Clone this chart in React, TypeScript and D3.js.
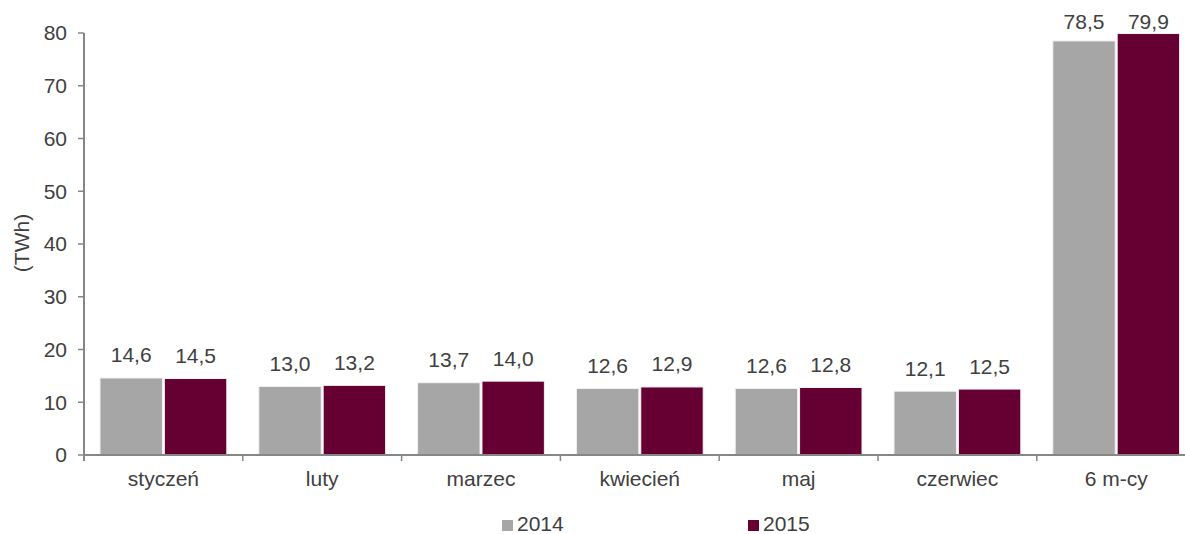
import React from "react";
import * as d3 from "d3";

const categories = ["styczeń", "luty", "marzec", "kwiecień", "maj", "czerwiec", "6 m-cy"];
const seriesNames = ["2014", "2015"];
const values2014 = [14.6, 13.0, 13.7, 12.6, 12.6, 12.1, 78.5];
const values2015 = [14.5, 13.2, 14.0, 12.9, 12.8, 12.5, 79.9];
const yTicks = [0, 10, 20, 30, 40, 50, 60, 70, 80];
const colors = ["#A6A6A6", "#660033"];

const W = 1185;
const H = 534;
const FONT = "'Liberation Sans', Arial, sans-serif";
const TEXT = "#404040";
const AXIS = "#868686";
const FS = 21;

export default function App() {
  const x0 = 84;
  const step = 158.8;
  const x = d3.scaleBand<string>().domain(categories).range([x0, x0 + step * categories.length]).paddingInner(0).paddingOuter(0);
  const x1 = d3.scaleBand<string>().domain(seriesNames).range([16, step - 16]).paddingInner(0.03);
  const y = d3.scaleLinear().domain([0, 80]).range([455, 33]);
  const series = [values2014, values2015];
  const fmt = (v: number) => v.toFixed(1).replace(".", ",");

  return (
    <svg width={W} height={H} style={{ position: "absolute", left: 0, top: 0, background: "#fff" }} fontFamily={FONT}>
      {categories.map((c, i) => (
        <g key={c} transform={`translate(${x(c)},0)`}>
          {seriesNames.map((s, j) => {
            const v = series[j][i];
            const bx = x1(s)!;
            const bw = x1.bandwidth();
            const top = y(v);
            const ly = Math.max(top - 15.5, 29);
            return (
              <g key={s}>
                <rect x={bx} y={top} width={bw} height={y(0) - top} fill={colors[j]} stroke="#F2F2F2" strokeWidth={1} />
                <text x={bx + bw / 2} y={ly} textAnchor="middle" fontSize={FS} fill={TEXT}>{fmt(v)}</text>
              </g>
            );
          })}
        </g>
      ))}
      <line x1={x0} x2={x0} y1={y(80)} y2={y(0) + 6} stroke={AXIS} strokeWidth={2} />
      {yTicks.map((t) => (
        <g key={t}>
          <line x1={x0 - 6} x2={x0} y1={y(t)} y2={y(t)} stroke={AXIS} strokeWidth={1.5} />
          <text x={x0 - 17} y={y(t)} dy="0.35em" textAnchor="end" fontSize={FS} fill={TEXT}>{t}</text>
        </g>
      ))}
      <line x1={x0} x2={x0 + step * categories.length} y1={y(0)} y2={y(0)} stroke={AXIS} strokeWidth={2} />
      {categories.map((c, i) => (
        <g key={c}>
          {i > 0 && <line x1={x(c)!} x2={x(c)!} y1={y(0)} y2={y(0) + 6} stroke={AXIS} strokeWidth={1.5} />}
          <text x={x(c)! + step / 2} y={486} textAnchor="middle" fontSize={FS} fill={TEXT}>{c}</text>
        </g>
      ))}
      <text transform={`translate(29,243) rotate(-90)`} textAnchor="middle" fontSize={FS} fill={TEXT}>(TWh)</text>
      {seriesNames.map((s, j) => {
        const lx = [502, 748][j];
        return (
          <g key={s}>
            <rect x={lx} y={520} width={11} height={11} fill={colors[j]} />
            <text x={lx + 15} y={531} fontSize={FS} fill={TEXT}>{s}</text>
          </g>
        );
      })}
    </svg>
  );
}
